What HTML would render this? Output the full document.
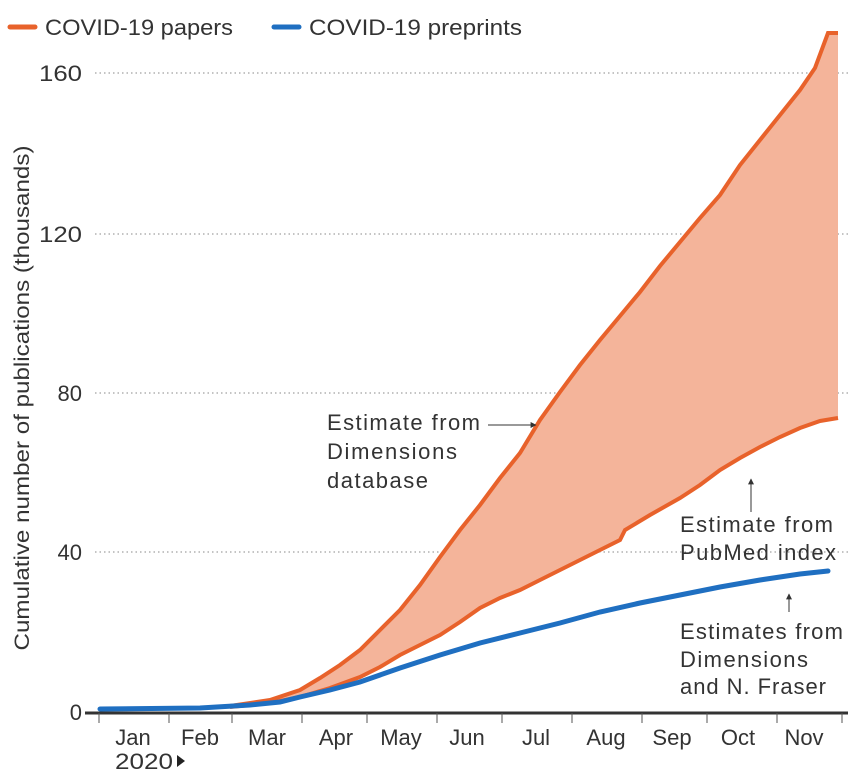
<!DOCTYPE html>
<html><head><meta charset="utf-8"><style>
body{margin:0;background:#fff;}
svg{display:block;font-family:"Liberation Sans",sans-serif;}
</style></head><body>
<svg width="866" height="777" viewBox="0 0 866 777">
<defs><marker id="ah" viewBox="0 0 10 10" refX="9" refY="5" markerWidth="6" markerHeight="6" orient="auto"><path d="M0,0L10,5L0,10z" fill="#333"/></marker></defs>
<g stroke="#888" stroke-dasharray="1.5,3" stroke-width="1">
<line x1="95" y1="73" x2="848" y2="73"/><line x1="95" y1="234" x2="848" y2="234"/><line x1="95" y1="393" x2="848" y2="393"/><line x1="95" y1="552" x2="848" y2="552"/>
</g>
<g font-size="22" fill="#333" text-anchor="end">
<text x="82" y="81" textLength="43" lengthAdjust="spacingAndGlyphs">160</text><text x="82" y="242" textLength="43" lengthAdjust="spacingAndGlyphs">120</text><text x="82" y="401">80</text><text x="82" y="560">40</text><text x="82" y="720">0</text>
</g>
<text transform="translate(29,398) rotate(-90)" font-size="21" fill="#333" text-anchor="middle" textLength="505" lengthAdjust="spacingAndGlyphs">Cumulative number of publications (thousands)</text>
<path d="M230,706 L270,700 L300,690 L320,678 L340,665 L360,650 L380,630 L400,610 L420,585 L440,557 L460,530 L480,505 L500,478 L520,453 L540,420 L560,392 L580,365 L600,340 L620,316 L640,292 L660,266 L680,242 L700,218 L720,195 L740,165 L760,140 L780,115 L800,90 L815,68 L828,33 L838,33 L838,418 L820,421 L800,428 L780,437 L760,447 L740,458 L720,470 L700,485 L680,498 L650,515 L625,530 L620,540 L600,550 L580,560 L560,570 L540,580 L520,590 L500,598 L480,608 L460,622 L440,635 L420,645 L400,655 L380,667 L360,677 L330,688 L300,697 L270,703 Z" fill="#f4b49a"/>
<polyline fill="none" stroke="#e8622b" stroke-width="4" points="230,706 270,700 300,690 320,678 340,665 360,650 380,630 400,610 420,585 440,557 460,530 480,505 500,478 520,453 540,420 560,392 580,365 600,340 620,316 640,292 660,266 680,242 700,218 720,195 740,165 760,140 780,115 800,90 815,68 828,33 838,33"/>
<polyline fill="none" stroke="#e8622b" stroke-width="4" points="230,707 270,703 300,697 330,688 360,677 380,667 400,655 420,645 440,635 460,622 480,608 500,598 520,590 540,580 560,570 580,560 600,550 620,540 625,530 650,515 680,498 700,485 720,470 740,458 760,447 780,437 800,428 820,421 838,418"/>
<polyline fill="none" stroke="#1f6fc1" stroke-width="5" stroke-linecap="round" points="100,709 200,708 250,705 280,702 300,697 330,690 360,682 400,668 440,655 480,643 520,633 560,623 600,612 640,603 680,595 720,587 760,580 800,574 828,571"/>
<polyline fill="none" stroke="#fff" stroke-width="1" points="560,627 600,616 640,607 680,599 720,591 760,585 798,582"/>
<line x1="85" y1="713" x2="848" y2="713" stroke="#333" stroke-width="3"/>
<g stroke="#555" stroke-width="1">
<line x1="99" y1="713" x2="99" y2="723"/><line x1="169" y1="713" x2="169" y2="723"/><line x1="232" y1="713" x2="232" y2="723"/><line x1="302" y1="713" x2="302" y2="723"/><line x1="367" y1="713" x2="367" y2="723"/><line x1="437" y1="713" x2="437" y2="723"/><line x1="502" y1="713" x2="502" y2="723"/><line x1="572" y1="713" x2="572" y2="723"/><line x1="642" y1="713" x2="642" y2="723"/><line x1="707" y1="713" x2="707" y2="723"/><line x1="777" y1="713" x2="777" y2="723"/><line x1="842" y1="713" x2="842" y2="723"/>
</g>
<g font-size="22" fill="#333" text-anchor="middle">
<text x="133" y="745">Jan</text><text x="200" y="745">Feb</text><text x="267" y="745">Mar</text><text x="336" y="745">Apr</text><text x="401" y="745">May</text><text x="467" y="745">Jun</text><text x="536" y="745">Jul</text><text x="606" y="745">Aug</text><text x="672" y="745">Sep</text><text x="738" y="745">Oct</text><text x="804" y="745">Nov</text>
</g>
<text x="115" y="769" font-size="22" fill="#333" textLength="58" lengthAdjust="spacingAndGlyphs">2020</text>
<path d="M177,755 L185,761 L177,767 Z" fill="#222"/>
<line x1="10" y1="27" x2="35" y2="27" stroke="#e8622b" stroke-width="5" stroke-linecap="round"/>
<text x="45" y="35" font-size="22" fill="#333" textLength="188" lengthAdjust="spacingAndGlyphs">COVID-19 papers</text>
<line x1="274" y1="27" x2="299" y2="27" stroke="#1f6fc1" stroke-width="5" stroke-linecap="round"/>
<text x="309" y="35" font-size="22" fill="#333" textLength="213" lengthAdjust="spacingAndGlyphs">COVID-19 preprints</text>
<g font-size="22" fill="#333" lengthAdjust="spacingAndGlyphs">
<text x="327" y="430" textLength="153">Estimate from</text><text x="327" y="459" textLength="130">Dimensions</text><text x="327" y="488" textLength="101">database</text>
<text x="680" y="532" textLength="153">Estimate from</text><text x="680" y="560" textLength="156">PubMed index</text>
<text x="680" y="639" textLength="163">Estimates from</text><text x="680" y="667" textLength="128">Dimensions</text><text x="680" y="694" textLength="146">and N. Fraser</text>
</g>
<g stroke="#333" stroke-width="1" marker-end="url(#ah)">
<line x1="488" y1="425" x2="536" y2="425"/>
<line x1="751" y1="512" x2="751" y2="479"/>
<line x1="789" y1="612" x2="789" y2="594"/>
</g>
</svg>
</body></html>
